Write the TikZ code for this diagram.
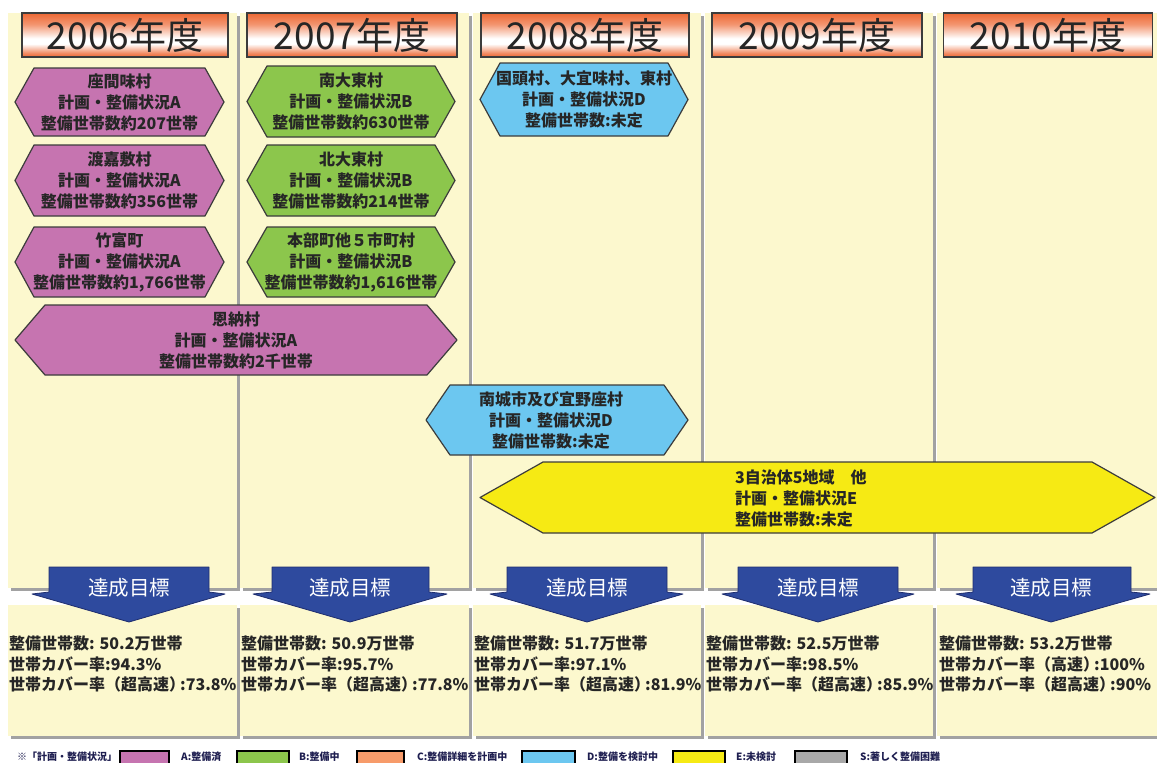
\documentclass[tikz,border=0pt]{standalone}
\usepackage{fontspec}
\setmainfont{Noto Sans CJK JP}
\definecolor{bgY}{RGB}{252,248,206}
\definecolor{shd}{RGB}{162,162,162}
\definecolor{cA}{RGB}{198,116,176}
\definecolor{cB}{RGB}{140,198,76}
\definecolor{cC}{RGB}{247,155,106}
\definecolor{cD}{RGB}{108,199,240}
\definecolor{cE}{RGB}{246,234,20}
\definecolor{cS}{RGB}{168,168,168}
\definecolor{arB}{RGB}{46,74,158}
\definecolor{arBd}{RGB}{30,45,110}
\definecolor{hdrO}{RGB}{238,104,52}
\definecolor{txt}{RGB}{38,38,38}
\definecolor{hexdraw}{RGB}{60,60,60}
\definecolor{legT}{RGB}{30,30,80}
\pgfdeclareverticalshading{hdrshade}{100bp}{color(0bp)=(hdrO); color(25bp)=(hdrO); color(29bp)=(hdrO!80!white); color(40bp)=(white); color(46bp)=(white); color(62bp)=(hdrO!70!white); color(75bp)=(hdrO); color(100bp)=(hdrO)}
\newcommand\hexshape[6]{%
  \filldraw[hexline, fill=#6] ({#1+#5},#2) -- ({#3-#5},#2) -- (#3,{(#2+#4)/2}) -- ({#3-#5},#4) -- ({#1+#5},#4) -- (#1,{(#2+#4)/2}) -- cycle;}
\newcommand\hexnode[8]{%
  \hexshape{#2}{#3}{#4}{#5}{#6}{#7}%
  \node[hextext] (#1) at ({(#2+#4)/2},{(#3+#5)/2}) {#8};}
\newcommand\goalarrow[6]{%
  \filldraw[fill=arB, draw=arBd, line width=0.8pt, line join=round] (#2,567) -- (#3,567) -- (#3,592) -- (#5,594) -- (#6,622) -- (#4,594) -- (#2,592) -- cycle;
  \node[arrowtext] (#1) at (#6,588) {達成目標};}
\newcommand\rate[1]{世帯カバー率（#1）\kern-5pt:}
\begin{document}
\begin{tikzpicture}[x=1pt,y=-1pt,
  hexline/.style={draw=hexdraw, line width=1.2pt, line join=round},
  hextext/.style={font=\bfseries\fontsize{16}{21}\selectfont, text=txt, align=center, inner sep=0pt},
  goaltext/.style={font=\bfseries\fontsize{16}{20.5}\selectfont, text=txt, align=left, anchor=north west, inner sep=0pt},
  arrowtext/.style={font=\fontsize{20.5}{20.5}\selectfont, text=white, inner sep=0pt},
  hdr/.style={draw=hexdraw, line width=1.3pt, shading=hdrshade, minimum height=44pt, inner sep=0pt, font=\fontsize{37}{37}\selectfont, text=txt},
  legtext/.style={font=\bfseries\fontsize{10}{10}\selectfont, text=legT, inner sep=0pt, anchor=west},
  legbox/.style={draw=black, line width=2pt}]
\useasboundingbox (0,0) rectangle (1157,763);
\fill[white] (0,0) rectangle (1157,763);
\foreach \a/\b in {8/237,240/469,473/701,705/933,937/1165} {
  \fill[shd] (\a+3,16) rectangle (\b+3,591);
  \fill[bgY] (\a,13) rectangle (\b,588);
  \fill[shd] (\a+3,608) rectangle (\b+3,739);
  \fill[bgY] (\a,605) rectangle (\b,736);
}
% headers
\node[hdr, minimum width=206pt] (h06) at (125,35) {2006年度};
\node[hdr, minimum width=210pt] (h07) at (352,35) {2007年度};
\node[hdr, minimum width=208pt] (h08) at (585,35) {2008年度};
\node[hdr, minimum width=210pt] (h09) at (817,35) {2009年度};
\node[hdr, minimum width=209pt] (h10) at (1048,35) {2010年度};
% 2006
\hexnode{a1}{15}{68}{224}{136}{19}{cA}{座間味村\\計画・整備状況A\\整備世帯数約207世帯}
\hexnode{a2}{15}{145}{224}{216}{19}{cA}{渡嘉敷村\\計画・整備状況A\\整備世帯数約356世帯}
\hexnode{a3}{15}{227}{224}{297}{19}{cA}{竹富町\\計画・整備状況A\\整備世帯数約1,766世帯}
\hexnode{a4}{15}{305}{457}{375}{30}{cA}{恩納村\\計画・整備状況A\\整備世帯数約2千世帯}
% 2007
\hexnode{b1}{247}{66}{455}{137}{20}{cB}{南大東村\\計画・整備状況B\\整備世帯数約630世帯}
\hexnode{b2}{247}{145}{455}{216}{20}{cB}{北大東村\\計画・整備状況B\\整備世帯数約214世帯}
\hexnode{b3}{247}{227}{455}{297}{20}{cB}{本部町他５市町村\\計画・整備状況B\\整備世帯数約1,616世帯}
% 2008
\hexnode{d1}{480}{63}{688}{136}{20}{cD}{国頭村、大宜味村、東村\\計画・整備状況D\\整備世帯数:未定}
\hexshape{426}{385}{688}{455}{24}{cD}
\node[hextext] (d2) at (551,420) {南城市及び宜野座村\\計画・整備状況D\\整備世帯数:未定};
\hexshape{480}{462}{1155}{533}{63}{cE}
\node[hextext, align=left, anchor=west] (e1) at (735,498) {3自治体5地域\quad 他\\計画・整備状況E\\整備世帯数:未定};
% goal arrows
\goalarrow{g06}{49}{209}{32}{225}{129}
\goalarrow{g07}{272}{429}{253}{447}{350}
\goalarrow{g08}{507}{667}{490}{683}{587}
\goalarrow{g09}{738}{898}{722}{914}{818}
\goalarrow{g10}{973}{1131}{956}{1150}{1051}
% goal texts
\node[goaltext] (t06) at (9,636) {整備世帯数: 50.2万世帯\\世帯カバー率:94.3\%\\\rate{超高速}73.8\%};
\node[goaltext] (t07) at (241,636) {整備世帯数: 50.9万世帯\\世帯カバー率:95.7\%\\\rate{超高速}77.8\%};
\node[goaltext] (t08) at (474,636) {整備世帯数: 51.7万世帯\\世帯カバー率:97.1\%\\\rate{超高速}81.9\%};
\node[goaltext] (t09) at (706,636) {整備世帯数: 52.5万世帯\\世帯カバー率:98.5\%\\\rate{超高速}85.9\%};
\node[goaltext] (t10) at (939,636) {整備世帯数: 53.2万世帯\\\rate{高速}100\%\\\rate{超高速}90\%};
% legend
\node[legtext] (lt) at (17,757) {※「計画・整備状況」};
\draw[legbox, fill=cA] (120,751) rectangle (169,775);
\node[legtext] (lA) at (181,757) {A:整備済};
\draw[legbox, fill=cB] (237,751) rectangle (289,775);
\node[legtext] (lB) at (299,757) {B:整備中};
\draw[legbox, fill=cC] (357,751) rectangle (404,775);
\node[legtext] (lC) at (417,757) {C:整備詳細を計画中};
\draw[legbox, fill=cD] (522,751) rectangle (575,775);
\node[legtext] (lD) at (587,757) {D:整備を検討中};
\draw[legbox, fill=cE] (673,751) rectangle (725,775);
\node[legtext] (lE) at (736,757) {E:未検討};
\draw[legbox, fill=cS] (795,751) rectangle (847,775);
\node[legtext] (lS) at (860,757) {S:著しく整備困難};
\end{tikzpicture}
\end{document}
